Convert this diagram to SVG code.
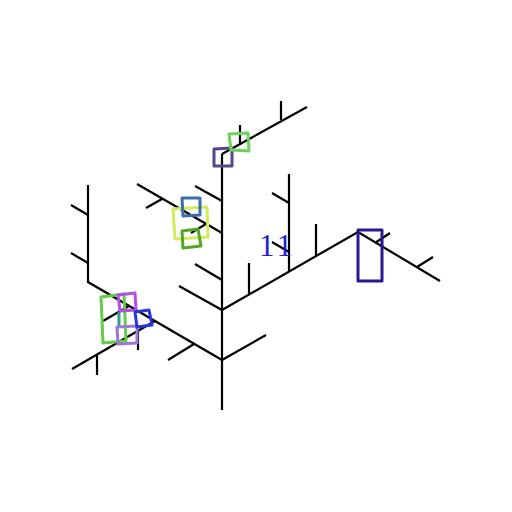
<svg xmlns="http://www.w3.org/2000/svg" width="512" height="512" viewBox="0 0 512 512">
<style>
.t{stroke:#000;stroke-width:2.2;fill:none;stroke-linecap:butt}
.b{fill:none;stroke-width:3;stroke-linejoin:round}
.lbl{font-family:"Liberation Serif","Times New Roman",serif;font-size:31px;letter-spacing:3.5px;fill:#1f1fcc}
</style>
<rect width="512" height="512" fill="#fff"/>
<g id="tree" class="t">
<path d="M222,410 V154"/>
<path d="M222,360 L266,335"/>
<path d="M222,360 L88,282 V185"/>
<path d="M88,215 L71,205 M88,263 L71,253"/>
<path d="M194,344 L168,360"/>
<path d="M155,321 L72,369"/>
<path d="M138,331 V350 M97,355 V375"/>
<path d="M129,306 L103,321"/>
<path d="M222,310 L179,286"/>
<path d="M222,280 L195,264"/>
<path d="M222,233 L137,184"/>
<path d="M162,199 L146,208"/>
<path d="M206,224 L191,233"/>
<path d="M222,201 L195,186"/>
<path d="M222,154 L307,107"/>
<path d="M240,145 V125 M281,120 V101"/>
<path d="M222,310 L358,232 L440,281"/>
<path d="M249,294 V263 M316,256 V224"/>
<path d="M289,272 V174 M289,203 L272,193 M289,252 L272,242"/>
<path d="M375,243 L390,233 M417,267 L433,257"/>
</g>
<g id="box-purple"><polygon class="b" stroke="#574590" points="214,149 232,148 232,166 214,166"/></g>
<g id="box-lightgreen"><polygon class="b" stroke="#6cd35c" points="229,134 248,133 249,151 231,150"/></g>
<g id="box-yellow"><polygon class="b" stroke="#d2ec5c" points="173,209 207,207 208,237 175,239"/></g>
<g id="box-steelblue"><polygon class="b" stroke="#3a6ea8" points="182,198 200,198 200,215 183,216"/></g>
<g id="box-green"><polygon class="b" stroke="#52a824" points="182,231 198,229 201,246 183,248"/></g>
<g id="box-tallgreen"><polygon class="b" stroke="#63cc4a" points="101,297 124,294 126,341 103,343"/></g>
<g id="box-magenta"><polygon class="b" stroke="#b34fe6" points="118,295 135,293 136,310 120,311"/></g>
<g id="box-teal"><line x1="119" y1="312" x2="119" y2="327" stroke="#2a9d8f" stroke-width="3"/></g>
<g id="box-lavender"><polygon class="b" stroke="#9b77d6" points="117,327 137,326 137,343 118,344"/></g>
<g id="box-blue"><polygon class="b" stroke="#2236dc" points="135,312 149,310 152,325 137,327"/></g>
<g id="box-indigo"><rect class="b" stroke="#2b1791" x="358" y="230" width="24" height="51"/></g>
<text class="lbl" x="259" y="256">11</text>
</svg>
